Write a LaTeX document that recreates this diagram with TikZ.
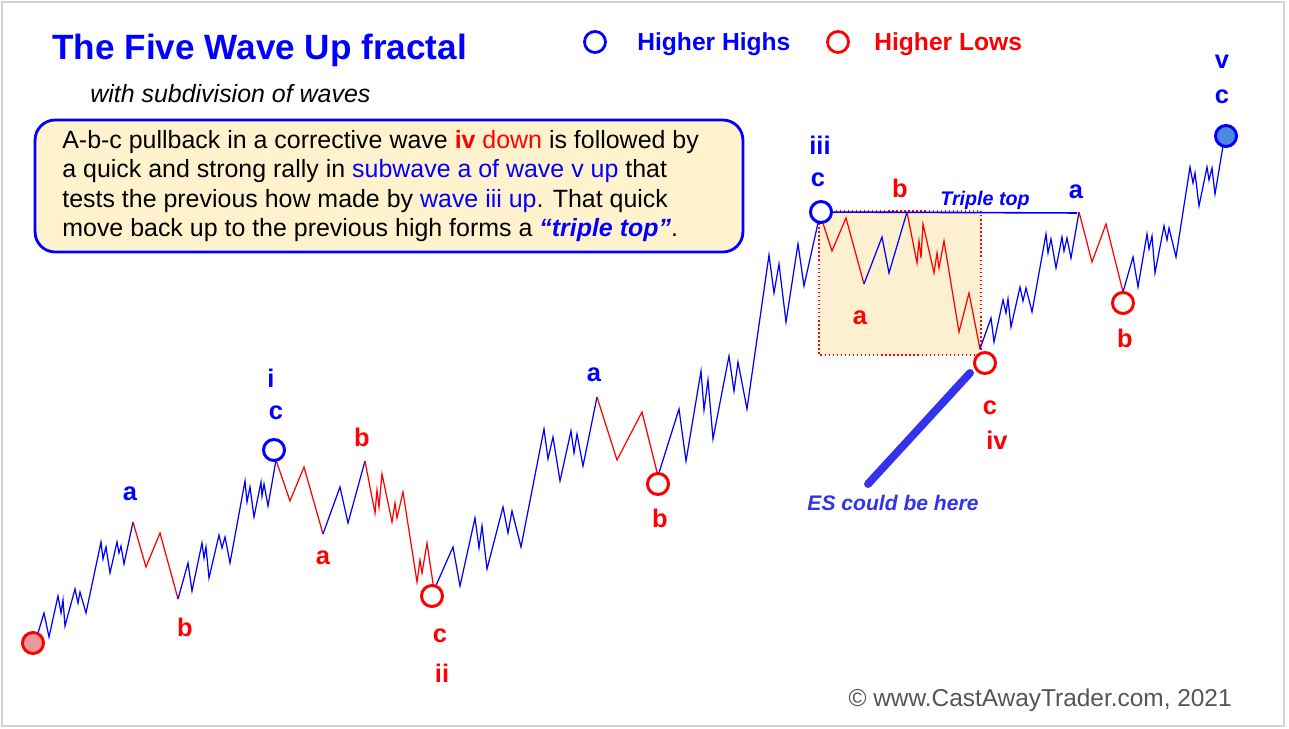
\documentclass[tikz,border=0pt]{standalone}
\usepackage{fontspec}
\setmainfont{Liberation Sans}
\usetikzlibrary{positioning}
\definecolor{hiblue}{RGB}{0,0,255}
\definecolor{lored}{RGB}{255,0,0}
\definecolor{esblue}{RGB}{51,51,238}
\definecolor{boxfill}{RGB}{255,242,204}
\definecolor{zonefill}{RGB}{253,240,208}
\definecolor{endfill}{RGB}{79,134,224}
\definecolor{startfill}{RGB}{232,154,154}
\definecolor{framegray}{RGB}{212,212,212}
\definecolor{credit}{RGB}{85,85,85}

\begin{document}
\begin{tikzpicture}[x=0.02cm, y=-0.02cm,
  upw/.style={hiblue, line width=0.7pt},
  dnw/.style={lored, line width=0.7pt},
  hh/.style={circle, draw=hiblue, line width=1.7pt, fill=white, minimum size=0.42cm, inner sep=0pt},
  hl/.style={hh, draw=lored},
  lblb/.style={font=\fontsize{14.5}{16}\selectfont\bfseries, text=hiblue, inner sep=0pt},
  lblr/.style={lblb, text=lored},
  infobox/.style={draw=hiblue, line width=1.6pt, fill=boxfill, rounded corners=0.4cm,
                  minimum width=14.16cm, minimum height=2.64cm, inner sep=0pt}
]
\useasboundingbox (0,0) rectangle (1289,729);
\draw[framegray, line width=0.8pt] (2,2) rectangle (1284,726);

% wave iv zone
\fill[zonefill] (819,211) rectangle (981,355);
\draw[lored, line width=0.6pt, dash pattern=on 0.8pt off 1.5pt] (819,211) rectangle (981,355);

% wave path
\draw[upw] plot coordinates {(33,643) (38,633) (44,613) (49,637) (58,596) (61,613) (63,600) (65,626) (75,589) (78,603) (80,592) (86,613) (101,542) (103,559) (106,547) (110,573) (117,542) (119,553) (121,546) (124,564) (133,522)};
\draw[dnw] plot coordinates {(133,522) (146,567) (160,533) (178,599)};
\draw[upw] plot coordinates {(178,599) (188,563) (192,591) (202,543) (204,558) (206,547) (209,578) (219,535) (222,548) (225,537) (230,563) (245,481) (247,502) (250,487) (254,517) (261,482) (262,496) (264,484) (268,506) (276,460)};
\draw[dnw] plot coordinates {(276,460) (290,501) (304,467) (323,534)};
\draw[upw] plot coordinates {(323,534) (340,487) (348,523) (365,461)};
\draw[dnw] plot coordinates {(365,461) (375,513) (377,490) (379,507) (382,474) (392,522) (395,503) (397,518) (403,492) (417,582) (420,560) (422,573) (427,543) (434,590)};
\draw[upw] plot coordinates {(434,590) (453,547) (460,586) (475,518) (479,548) (482,526) (487,569) (503,507) (508,533) (512,511) (521,547) (544,429) (548,459) (553,437) (560,481) (571,431) (574,453) (577,434) (583,466) (597,397)};
\draw[dnw] plot coordinates {(597,397) (617,460) (642,412) (658,476)};
\draw[upw] plot coordinates {(658,476) (679,409) (686,461) (701,371) (704,410) (708,380) (713,439) (729,356) (734,391) (738,362) (747,409) (769,255) (774,293) (779,264) (786,322) (798,244) (804,286) (820,214)};
\draw[dnw] plot coordinates {(820,214) (832,251) (846,218) (864,284)};
\draw[upw] plot coordinates {(864,284) (882,237) (889,273) (907,212)};
\draw[dnw] plot coordinates {(907,212) (917,263) (919,241) (921,258) (923,224) (934,273) (937,253) (939,268) (944,241) (959,332) (969,293) (980,349)};
\draw[upw] plot coordinates {(980,349) (991,318) (994,342) (1003,300) (1006,313) (1008,299) (1011,327) (1020,287) (1023,301) (1026,288) (1032,312) (1046,234) (1048,253) (1051,239) (1056,268) (1062,237) (1064,251) (1067,238) (1071,258) (1079,212)};
\draw[dnw] plot coordinates {(1079,212) (1092,262) (1106,224) (1123,292)};
\draw[upw] plot coordinates {(1123,292) (1133,257) (1138,287) (1147,234) (1149,249) (1152,236) (1155,273) (1164,226) (1167,240) (1169,228) (1176,257) (1190,167) (1193,183) (1195,173) (1199,206) (1207,167) (1209,180) (1212,168) (1215,194) (1224,140)};

% triple top
\coordinate (tt-end) at (1077,213);
\draw[hiblue, line width=0.9pt] (821,212) -- (tt-end);
\node[font=\fontsize{11.2}{13}\selectfont\bfseries\itshape, text=hiblue, inner sep=0pt] (tt-lbl) at (985,200) {Triple top};

% highs and lows
\node[hl, fill=startfill] (hl-0) at (33,643) {};
\node[hh] (hh-i) at (274,450) {};
\node[hl] (hl-ii) at (432,596) {};
\node[hl] (hl-b1) at (658,484) {};
\node[hh] (hh-iii) at (821,212) {};
\node[hl] (hl-iv) at (985,363) {};
\node[hl] (hl-b2) at (1123,303) {};
\node[hh, fill=endfill] (hh-v) at (1226,136) {};

% wave labels
\foreach \x/\y/\t in {130/494/a, 271/378/i, 276/413/c, 594/375/a, 820/145/iii, 818/180/c, 1076/192/a, 1222/62/v, 1222/97/c}
  \node[lblb] (lb-\x-\y) at (\x,\y) {\t};
\foreach \x/\y/\t in {185/627/b, 323/558/a, 362/437/b, 440/636/c, 442/673/ii, 660/518/b, 900/188/b, 860/318/a, 990/408/c, 997/440/iv, 1125/338/b}
  \node[lblr] (lr-\x-\y) at (\x,\y) {\t};

% ES marker
\coordinate (es-top) at (970,373);
\coordinate (es-bot) at (868,484);
\draw[esblue, line width=4.5pt, line cap=round] (es-top) -- (es-bot);
\node[font=\fontsize{12}{14}\selectfont\bfseries\itshape, text=esblue, inner sep=0pt] (es-lbl) at (893,503) {ES could be here};

% legend
\node[hh, line width=1.6pt] (key-hh) at (595,42) {};
\node[font=\fontsize{14}{16}\selectfont\bfseries, text=hiblue, inner sep=0pt, anchor=west] (key-hh-t) at (637,44) {Higher Highs};
\node[hl, line width=1.6pt] (key-hl) at (838,42) {};
\node[font=\fontsize{14}{16}\selectfont\bfseries, text=lored, inner sep=0pt, anchor=west] (key-hl-t) at (874,44) {Higher Lows};

% title and note
\node[font=\fontsize{20}{24}\selectfont\bfseries, text=hiblue, inner sep=0pt, anchor=west] (title) at (52,50) {The Five Wave Up fractal};
\node[font=\fontsize{14.2}{16}\selectfont\itshape, inner sep=0pt, anchor=west] (subtitle) at (90,94) {with subdivision of waves};
\node[infobox] (note) at (389,186) {};
\node[font=\fontsize{14.2}{16.6}\selectfont, align=left, inner sep=0pt, anchor=west] (note-t) at (62,186)
  {A-b-c pullback in a corrective wave {\color{lored}\textbf{iv} down} is followed by\\
   a quick and strong rally in {\color{hiblue}subwave a of wave v up} that\\
   tests the previous how made by {\color{hiblue}wave iii up}. That quick\\
   move back up to the previous high forms a {\color{hiblue}\bfseries\itshape “triple top”}.};

\node[font=\fontsize{13.9}{16}\selectfont, text=credit, inner sep=0pt, anchor=east] (credit) at (1232,700) {© www.CastAwayTrader.com, 2021};
\end{tikzpicture}
\end{document}
